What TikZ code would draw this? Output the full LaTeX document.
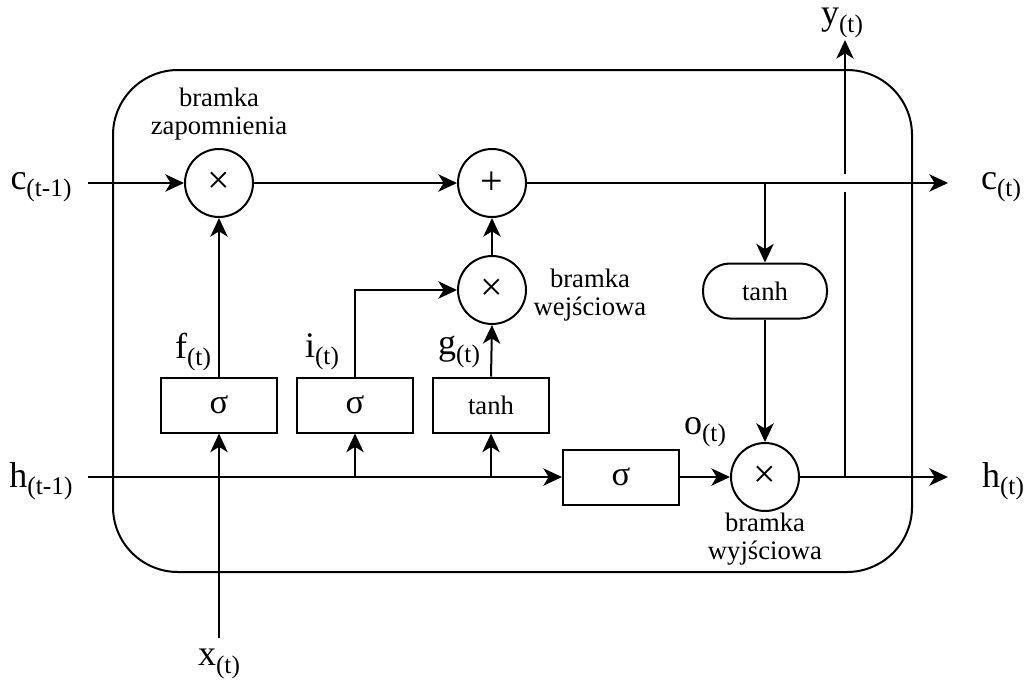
\documentclass[tikz,border=0pt]{standalone}
\usepackage{fontspec}
\setmainfont{Liberation Serif}
\usetikzlibrary{arrows.meta,calc}
\newcommand{\lstmlbl}[2]{\fontsize{27}{29}\selectfont #1\raisebox{-5.5pt}{\fontsize{19}{20}\selectfont #2}}
\begin{document}
\begin{tikzpicture}[x=0.75pt,y=-0.75pt,line width=1.5pt,
  >={Stealth[length=14pt,width=13pt,inset=4pt]},
  gate/.style={circle,draw,minimum size=51pt,inner sep=0pt,font=\fontsize{30}{30}\selectfont},
  actbox/.style={draw,rectangle,minimum width=87pt,minimum height=41.25pt,inner sep=0pt},
  tanhr/.style={draw,rounded corners=20pt,minimum width=93pt,minimum height=41.25pt,inner sep=0pt,font=\fontsize{20}{20}\selectfont},
  sig/.style={font=\fontsize{26}{26}\selectfont},
  th/.style={font=\fontsize{20}{20}\selectfont},
  gatelbl/.style={align=center,font=\fontsize{20}{21}\selectfont,inner sep=0pt},
  io/.style={inner sep=0pt}]
\useasboundingbox (0,0) rectangle (1027,686);
% outer cell
\draw[rounded corners=48.75pt] (113,70) rectangle (912,572);
% nodes
\node[gate] (fg) at (219,183) {×};
\node[gate] (pl) at (492,183) {+};
\node[gate] (ig) at (492,290) {×};
\node[gate] (og) at (765,477) {×};
\node[tanhr] (tc) at (765,291) {tanh};
\node[actbox,sig] (fb) at (219,405) {σ};
\node[actbox,sig] (ib) at (355,405) {σ};
\node[actbox,th] (gb) at (491,405) {tanh};
\node[actbox,sig] (ob) at (621,477) {σ};
% labels
\node[io] (cin) at (41,187) {\lstmlbl{c}{(t-1)}};
\node[io] (hin) at (41,481) {\lstmlbl{h}{(t-1)}};
\node[io] (cout) at (1001,187) {\lstmlbl{c}{(t)}};
\node[io] (hout) at (1003,481) {\lstmlbl{h}{(t)}};
\node[io] (yout) at (842,23) {\lstmlbl{y}{(t)}};
\node[io] (xin) at (219,664) {\lstmlbl{x}{(t)}};
\node[io] (fl) at (193,352) {\lstmlbl{f}{(t)}};
\node[io] (il) at (322,352) {\lstmlbl{i}{(t)}};
\node[io] (gl) at (459,352) {\lstmlbl{g}{(t)}};
\node[io] (ol) at (705,432) {\lstmlbl{o}{(t)}};
\node[gatelbl] (fgl) at (219,114) {bramka\\zapomnienia};
\node[gatelbl] (igl) at (590,295) {bramka\\wejściowa};
\node[gatelbl] (ogl) at (765,539) {bramka\\wyjściowa};
% coordinates
\coordinate (c0) at (88,183);
\coordinate (c1) at (948,183);
\coordinate (h0) at (88,477);
\coordinate (h1) at (948,477);
\coordinate (x0) at (219,638);
\coordinate (yj) at (845,477);
\coordinate (y1) at (845,40);
\coordinate (yc) at (845,183);
\coordinate (tj) at (765,183);
% y output with gap
\draw[->] (yj) -- (y1);
\fill[white] ($(yc)+(-4,-9)$) rectangle ($(yc)+(4,9)$);
% cell state line
\draw[->] (c0) -- (fg.west);
\draw[->] (fg.east) -- (pl.west);
\draw[->] (pl.east) -- (c1);
\draw[->] (tj) -- (tc.north);
\draw[->] (tc.south) -- (og.north);
% hidden state line
\draw[->] (h0) -- (ob.west);
\draw[->] (ob.east) -- (og.west);
\draw[->] (og.east) -- (h1);
\draw[->] (ib.south |- h0) -- (ib.south);
\draw[->] (gb.south |- h0) -- (gb.south);
% input
\draw[->] (x0) -- (fb.south);
% gates
\draw[->] (fb.north) -- (fg.south);
\draw[->] (ib.north) |- (ig.west);
\draw[->] (gb.north) -- (ig.south);
\draw[->] (ig.north) -- (pl.south);
\end{tikzpicture}
\end{document}
